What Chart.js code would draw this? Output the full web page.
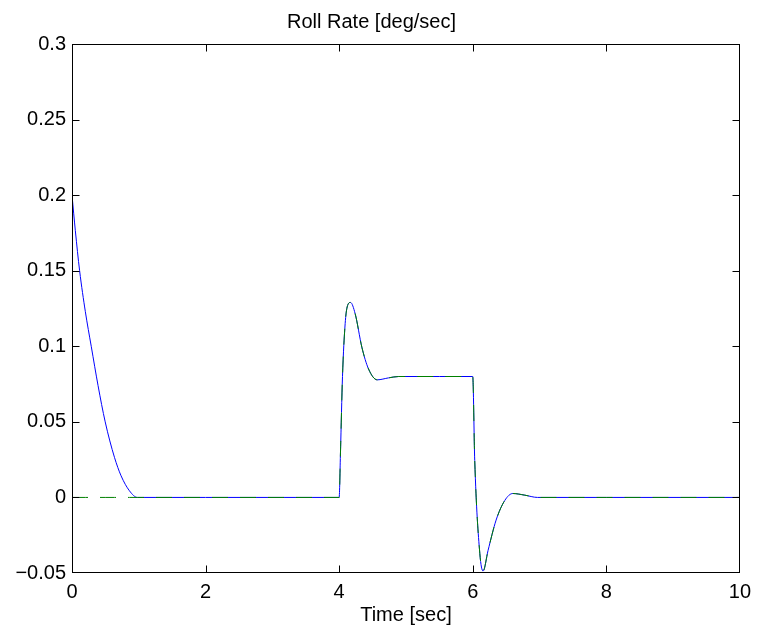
<!DOCTYPE html>
<html>
<head>
<meta charset="utf-8">
<script src="https://cdn.jsdelivr.net/npm/chart.js@4/dist/chart.umd.min.js"></script>
<style>
  body { margin: 0; background: #fff; }
</style>
</head>
<body>
<canvas id="chart" width="758" height="629"></canvas>
<script>
const times = [0, 0.05, 0.114, 0.2, 0.288, 0.39, 0.497, 0.636, 0.735, 0.86, 0.98,
  2, 4, 4.02, 4.05, 4.09, 4.12, 4.17, 4.24, 4.34, 4.44, 4.57, 4.74, 4.89, 5.5,
  6, 6.03, 6.106, 6.155, 6.23, 6.35, 6.48, 6.6, 6.78, 6.97, 8, 10];
const rollRate = [0.2, 0.1765, 0.15, 0.1229, 0.1, 0.074, 0.05, 0.0265, 0.0143, 0.0044, 0,
  0, 0, 0.03, 0.08, 0.115, 0.126, 0.129, 0.1215, 0.0994, 0.085, 0.0778, 0.0791, 0.08, 0.08,
  0.08, 0.0245, -0.037, -0.0487, -0.035, -0.015, -0.002, 0.0026, 0.0015, 0, 0, 0];
const rollRateRef = [0, 0, 0, 0, 0, 0, 0, 0, 0, 0, 0,
  0, 0, 0.03, 0.08, 0.115, 0.126, 0.129, 0.1215, 0.0994, 0.085, 0.0778, 0.0791, 0.08, 0.08,
  0.08, 0.0245, -0.037, -0.0487, -0.035, -0.015, -0.002, 0.0026, 0.0015, 0, 0, 0];

const xTicks = [0, 2, 4, 6, 8, 10];
const yTicks = [-0.05, 0, 0.05, 0.1, 0.15, 0.2, 0.25, 0.3];
const yTickLabels = ['\u22120.05', '0', '0.05', '0.1', '0.15', '0.2', '0.25', '0.3'];

const FONT = "'Liberation Sans', Arial, Helvetica, sans-serif";

// matlab style box with ticks pointing inward on all four sides
const frame = {
  id: 'frame',
  afterDatasetsDraw(chart) {
    const { ctx, chartArea: a, scales: { x, y } } = chart;
    const len = 7;
    const L = Math.round(a.left) + 0.5, R = Math.round(a.right) - 0.5;
    const T = Math.round(a.top) + 0.5, B = Math.round(a.bottom) - 0.5;
    const clamp = (v, lo, hi) => Math.min(Math.max(v, lo), hi);
    ctx.save();
    ctx.strokeStyle = '#000';
    ctx.lineWidth = 1;
    ctx.beginPath();
    xTicks.forEach(v => {
      const px = clamp(Math.round(x.getPixelForValue(v)) + 0.5, L, R);
      ctx.moveTo(px, B); ctx.lineTo(px, B - len);
      ctx.moveTo(px, T); ctx.lineTo(px, T + len);
    });
    yTicks.forEach(v => {
      const py = clamp(Math.round(y.getPixelForValue(v)) + 0.5, T, B);
      ctx.moveTo(L, py); ctx.lineTo(L + len, py);
      ctx.moveTo(R, py); ctx.lineTo(R - len, py);
    });
    ctx.stroke();
    ctx.strokeRect(L, T, R - L, B - T);
    ctx.restore();
  }
};

const ctx = document.getElementById('chart').getContext('2d');
const chart = new Chart(ctx, {
  type: 'line',
  data: {
    datasets: [
      {
        label: 'reference',
        data: times.map((t, i) => ({ x: t, y: rollRateRef[i] })),
        borderColor: '#008000',
        borderWidth: 1,
        borderDash: [16, 12],
        pointRadius: 0,
        cubicInterpolationMode: 'monotone'
      },
      {
        label: 'roll rate',
        data: times.map((t, i) => ({ x: t, y: rollRate[i] })),
        borderColor: '#0000ff',
        borderWidth: 1,
        pointRadius: 0,
        cubicInterpolationMode: 'monotone'
      }
    ]
  },
  options: {
    responsive: false,
    animation: false,
    layout: { padding: { left: 0, right: 15, top: 0, bottom: 0 } },
    plugins: {
      legend: { display: false },
      tooltip: { enabled: false },
      title: {
        display: true,
        text: 'Roll Rate [deg/sec]',
        color: '#000',
        font: { family: FONT, size: 20, weight: 'normal' },
        padding: { top: 10, bottom: 10 }
      }
    },
    scales: {
      x: {
        type: 'linear',
        min: 0,
        max: 10,
        afterBuildTicks: s => { s.ticks = xTicks.map(v => ({ value: v })); },
        afterFit: s => { s.height = 56; },
        grid: { display: false, drawTicks: false },
        border: { display: false },
        ticks: {
          color: '#000',
          padding: 7,
          maxRotation: 0,
          font: { family: FONT, size: 20 },
          callback: v => String(v)
        },
        title: {
          display: true,
          text: 'Time [sec]',
          color: '#000',
          font: { family: FONT, size: 20 },
          padding: { top: 0, bottom: 2 }
        }
      },
      y: {
        min: -0.05,
        max: 0.3,
        afterBuildTicks: s => { s.ticks = yTicks.map(v => ({ value: v })); },
        afterFit: s => { s.width = 72; },
        grid: { display: false, drawTicks: false },
        border: { display: false },
        ticks: {
          color: '#000',
          padding: 6,
          font: { family: FONT, size: 20 },
          callback: (v, i) => yTickLabels[i]
        }
      }
    }
  },
  plugins: [frame]
});
</script>
</body>
</html>
